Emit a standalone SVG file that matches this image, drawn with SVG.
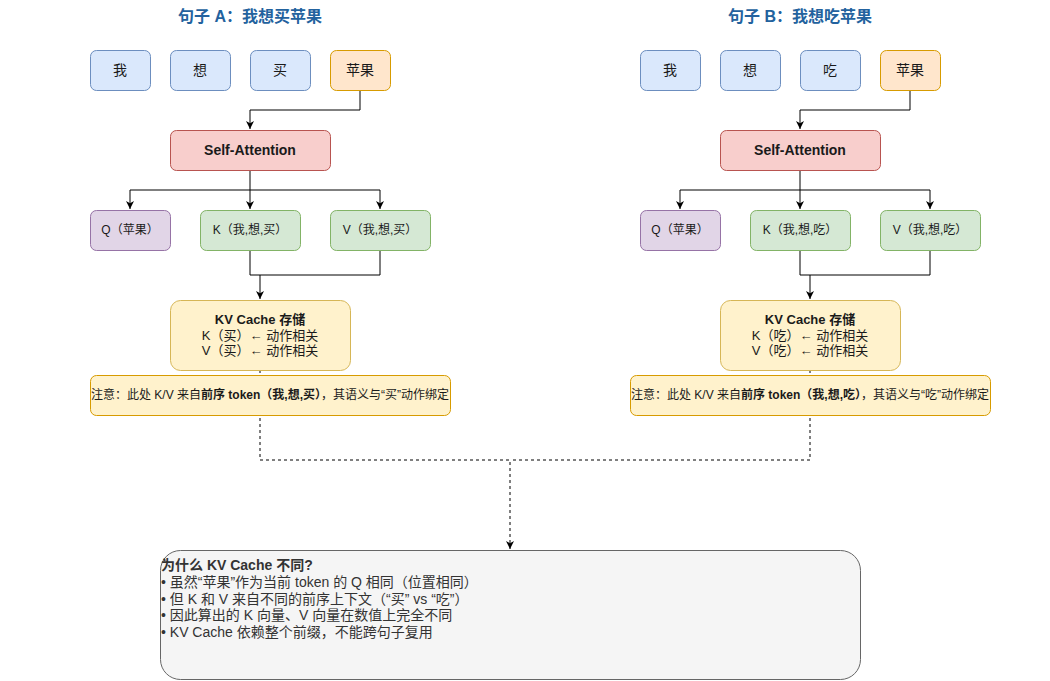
<svg xmlns="http://www.w3.org/2000/svg" width="1050" height="681" viewBox="0 0 1050 681">
<style>
text{font-family:"Liberation Sans","Noto Sans CJK SC",sans-serif;font-size:12px;fill:#1a1a1a}
.c{text-anchor:middle;dominant-baseline:central}
.b{font-weight:bold}
.t14{font-size:14px}
.t13{font-size:13px}
.title{font-size:16px;font-weight:bold;fill:#23629e}
.tok{fill:#dae8fc;stroke:#6c8ebf}
.apl{fill:#ffe6cc;stroke:#d79b00}
.sa{fill:#f8cecc;stroke:#b85450}
.q{fill:#e1d5e7;stroke:#9673a6}
.kv{fill:#d5e8d4;stroke:#82b366}
.cache{fill:#fff2cc;stroke:#d6b656}
.note{fill:#fff2cc;stroke:#d79b00}
.note-t{font-size:12px}
.sum{fill:#f5f5f5;stroke:#666666}
.sum-t{font-size:14px;fill:#333333}
.e{fill:none;stroke:#000;stroke-width:1}
.d{stroke-dasharray:3 3}
</style>
<defs>
<marker id="ah" markerWidth="9" markerHeight="9" refX="8" refY="4.5" orient="auto" markerUnits="userSpaceOnUse">
<path d="M0,0.5 L8,4.5 L0,8.5 L2.2,4.5 Z" fill="#000"/>
</marker>
</defs>
<g id="connectors">
<path class="e" d="M360,90 V110 H250 V129" marker-end="url(#ah)"/>
<path class="e" d="M250,170 V209" marker-end="url(#ah)"/>
<path class="e" d="M250,190 H130 V209" marker-end="url(#ah)"/>
<path class="e" d="M250,190 H380 V209" marker-end="url(#ah)"/>
<path class="e" d="M250,250 V275 H260 V299" marker-end="url(#ah)"/>
<path class="e" d="M380,250 V275 H260"/>
<path class="e" d="M910,90 V110 H800 V129" marker-end="url(#ah)"/>
<path class="e" d="M800,170 V209" marker-end="url(#ah)"/>
<path class="e" d="M800,190 H680 V209" marker-end="url(#ah)"/>
<path class="e" d="M800,190 H930 V209" marker-end="url(#ah)"/>
<path class="e" d="M800,250 V275 H810 V299" marker-end="url(#ah)"/>
<path class="e" d="M930,250 V275 H810"/>
<path class="e d" d="M260,370 V460 H510 V549" marker-end="url(#ah)"/>
<path class="e d" d="M810,370 V460 H510"/>
</g>
<text class="title c" x="250" y="16">句子 A：我想买苹果</text>
<text class="title c" x="800" y="16">句子 B：我想吃苹果</text>
<g id="a-wo"><rect class="tok" x="90.5" y="50.5" width="60" height="40" rx="6"/><text class="c t14" x="120" y="70">我</text></g>
<g id="a-xiang"><rect class="tok" x="170.5" y="50.5" width="60" height="40" rx="6"/><text class="c t14" x="200" y="70">想</text></g>
<g id="a-mai"><rect class="tok" x="250.5" y="50.5" width="60" height="40" rx="6"/><text class="c t14" x="280" y="70">买</text></g>
<g id="a-apple"><rect class="apl" x="330.5" y="50.5" width="60" height="40" rx="6"/><text class="c t14" x="360" y="70">苹果</text></g>
<g id="a-sa"><rect class="sa" x="170.5" y="130.5" width="160" height="40" rx="6"/><text class="c b t14" x="250" y="150">Self-Attention</text></g>
<g id="a-q"><rect class="q" x="90.5" y="210.5" width="80" height="40" rx="6"/><text class="c" x="130" y="230">Q（苹果）</text></g>
<g id="a-k"><rect class="kv" x="200.5" y="210.5" width="100" height="40" rx="6"/><text class="c" x="250" y="230">K（我,想,买）</text></g>
<g id="a-v"><rect class="kv" x="330.5" y="210.5" width="100" height="40" rx="6"/><text class="c" x="380" y="230">V（我,想,买）</text></g>
<g id="a-cache"><rect class="cache" x="170.5" y="300.5" width="180" height="70" rx="10"/>
<text class="c b t13" x="260" y="319">KV Cache 存储</text>
<text class="c t13" x="260" y="335">K（买）← 动作相关</text>
<text class="c t13" x="260" y="350">V（买）← 动作相关</text></g>
<g id="a-note"><rect class="note" x="90.5" y="375.5" width="360" height="40" rx="6"/>
<text class="c note-t" x="270" y="395">注意：此处 K/V 来自<tspan class="b">前序 token（我,想,买）</tspan>，其语义与“买”动作绑定</text></g>
<g id="b-wo"><rect class="tok" x="640.5" y="50.5" width="60" height="40" rx="6"/><text class="c t14" x="670" y="70">我</text></g>
<g id="b-xiang"><rect class="tok" x="720.5" y="50.5" width="60" height="40" rx="6"/><text class="c t14" x="750" y="70">想</text></g>
<g id="b-chi"><rect class="tok" x="800.5" y="50.5" width="60" height="40" rx="6"/><text class="c t14" x="830" y="70">吃</text></g>
<g id="b-apple"><rect class="apl" x="880.5" y="50.5" width="60" height="40" rx="6"/><text class="c t14" x="910" y="70">苹果</text></g>
<g id="b-sa"><rect class="sa" x="720.5" y="130.5" width="160" height="40" rx="6"/><text class="c b t14" x="800" y="150">Self-Attention</text></g>
<g id="b-q"><rect class="q" x="640.5" y="210.5" width="80" height="40" rx="6"/><text class="c" x="680" y="230">Q（苹果）</text></g>
<g id="b-k"><rect class="kv" x="750.5" y="210.5" width="100" height="40" rx="6"/><text class="c" x="800" y="230">K（我,想,吃）</text></g>
<g id="b-v"><rect class="kv" x="880.5" y="210.5" width="100" height="40" rx="6"/><text class="c" x="930" y="230">V（我,想,吃）</text></g>
<g id="b-cache"><rect class="cache" x="720.5" y="300.5" width="180" height="70" rx="10"/>
<text class="c b t13" x="810" y="319">KV Cache 存储</text>
<text class="c t13" x="810" y="335">K（吃）← 动作相关</text>
<text class="c t13" x="810" y="350">V（吃）← 动作相关</text></g>
<g id="b-note"><rect class="note" x="630.5" y="375.5" width="360" height="40" rx="6"/>
<text class="c note-t" x="810" y="395">注意：此处 K/V 来自<tspan class="b">前序 token（我,想,吃）</tspan>，其语义与“吃”动作绑定</text></g>
<g id="summary"><rect class="sum" x="160.5" y="550.5" width="700" height="129" rx="20"/>
<text class="sum-t b" x="161" y="570">为什么 KV Cache 不同?</text>
<text class="sum-t" x="161" y="587">• 虽然“苹果”作为当前 token 的 Q 相同（位置相同）</text>
<text class="sum-t" x="161" y="603.5">• 但 K 和 V 来自不同的前序上下文（“买” vs “吃”）</text>
<text class="sum-t" x="161" y="620">• 因此算出的 K 向量、V 向量在数值上完全不同</text>
<text class="sum-t" x="161" y="637">• KV Cache 依赖整个前缀，不能跨句子复用</text></g>
</svg>
